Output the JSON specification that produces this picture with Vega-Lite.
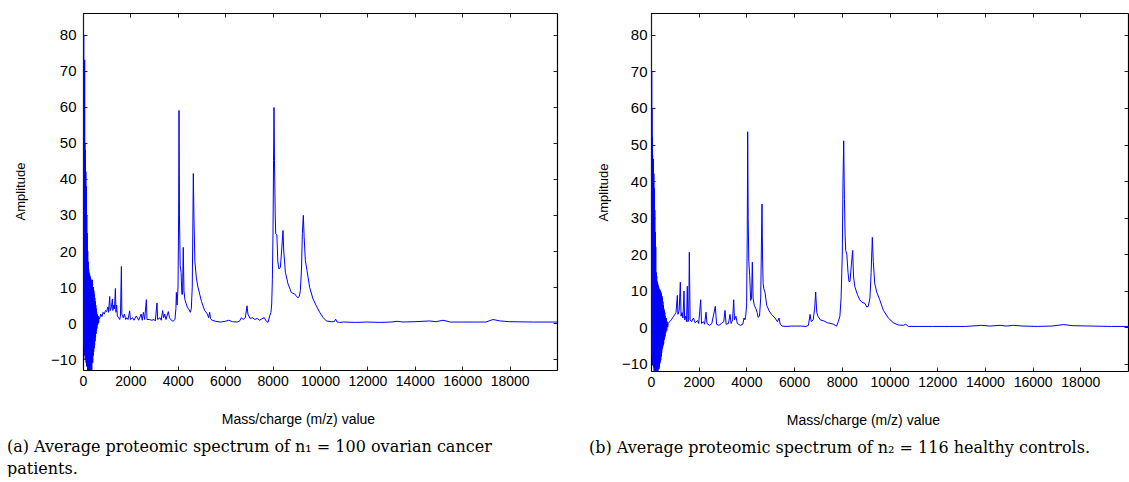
{
  "$schema": "https://vega.github.io/schema/vega-lite/v6.json",
  "padding": {"left": 7, "top": 12, "right": 0, "bottom": 0},
  "spacing": 31,
  "background": "white",
  "config": {
    "view": {"stroke": null},
    "axis": {"grid": false, "domainColor": "black", "domainWidth": 1.2, "tickColor": "#222222", "tickWidth": 1, "labelColor": "black", "titleColor": "black", "labelFont": "Liberation Sans", "titleFont": "Liberation Sans", "titleFontWeight": "normal"}
  },
  "datasets": {
    "a": [
      {"mz":0,"amp":90},{"mz":5,"amp":-3},{"mz":10,"amp":88},{"mz":15,"amp":-5},{"mz":20,"amp":85},{"mz":25,"amp":-6},{"mz":30,"amp":80},{"mz":35,"amp":-4},{"mz":40,"amp":73},{"mz":45,"amp":-7},{"mz":50,"amp":65},{"mz":55,"amp":-8},{"mz":60,"amp":60},{"mz":65,"amp":-6},{"mz":70,"amp":73},{"mz":75,"amp":-9},{"mz":80,"amp":50},{"mz":85,"amp":-8},{"mz":90,"amp":48},{"mz":95,"amp":-10},{"mz":100,"amp":45},{"mz":110,"amp":-9},{"mz":120,"amp":42},{"mz":130,"amp":-11},{"mz":140,"amp":38},{"mz":150,"amp":-12},{"mz":160,"amp":30},{"mz":170,"amp":-10},{"mz":180,"amp":25},{"mz":190,"amp":-13},{"mz":200,"amp":20},{"mz":210,"amp":-11},{"mz":220,"amp":17},{"mz":230,"amp":-14},{"mz":240,"amp":15},{"mz":250,"amp":-12},{"mz":260,"amp":14},{"mz":270,"amp":-14},{"mz":280,"amp":13.5},{"mz":290,"amp":-13},{"mz":300,"amp":13},{"mz":310,"amp":-12},{"mz":320,"amp":12.5},{"mz":330,"amp":-14},{"mz":340,"amp":12},{"mz":350,"amp":-11},{"mz":360,"amp":12},{"mz":370,"amp":-13},{"mz":380,"amp":11},{"mz":390,"amp":-10},{"mz":400,"amp":12},{"mz":410,"amp":-11},{"mz":420,"amp":10},{"mz":430,"amp":-9},{"mz":440,"amp":10},{"mz":450,"amp":-8},{"mz":460,"amp":9},{"mz":470,"amp":-7},{"mz":480,"amp":8},{"mz":490,"amp":-6},{"mz":500,"amp":7},{"mz":510,"amp":-5},{"mz":520,"amp":6},{"mz":530,"amp":-4},{"mz":540,"amp":5},{"mz":550,"amp":-3},{"mz":560,"amp":4},{"mz":570,"amp":-2},{"mz":580,"amp":3},{"mz":590,"amp":-1.5},{"mz":600,"amp":2.5},{"mz":620,"amp":-0.5},{"mz":640,"amp":2},{"mz":660,"amp":0},{"mz":680,"amp":1.5},{"mz":700,"amp":1.2},
      {"mz":750,"amp":2.5},{"mz":800,"amp":1.8},{"mz":850,"amp":3},{"mz":900,"amp":2.5},{"mz":950,"amp":3.5},{"mz":1000,"amp":3.2},{"mz":1050,"amp":4.5},{"mz":1080,"amp":3},{"mz":1127,"amp":7.4},{"mz":1150,"amp":3.5},{"mz":1200,"amp":4.5},{"mz":1240,"amp":6.7},{"mz":1260,"amp":3.5},{"mz":1300,"amp":5},{"mz":1330,"amp":4},{"mz":1367,"amp":9.6},{"mz":1390,"amp":3},{"mz":1420,"amp":5},{"mz":1450,"amp":2},{"mz":1500,"amp":1.5},{"mz":1550,"amp":1},{"mz":1580,"amp":2},{"mz":1620,"amp":15.7},{"mz":1640,"amp":2.5},{"mz":1700,"amp":1.5},{"mz":1750,"amp":2.5},{"mz":1800,"amp":1},{"mz":1850,"amp":1.5},{"mz":1900,"amp":1},{"mz":1970,"amp":3.4},{"mz":2000,"amp":1},{"mz":2100,"amp":1.5},{"mz":2150,"amp":0.8},{"mz":2250,"amp":2},{"mz":2350,"amp":0.8},{"mz":2450,"amp":2.5},{"mz":2500,"amp":0.8},{"mz":2550,"amp":3},{"mz":2600,"amp":1},{"mz":2675,"amp":6.5},{"mz":2700,"amp":1},{"mz":2800,"amp":1},{"mz":2900,"amp":0.8},{"mz":3000,"amp":1},{"mz":3050,"amp":0.6},{"mz":3122,"amp":5.6},{"mz":3150,"amp":1},{"mz":3250,"amp":1.5},{"mz":3300,"amp":0.8},{"mz":3360,"amp":3.5},{"mz":3400,"amp":1.5},{"mz":3450,"amp":2.5},{"mz":3500,"amp":1},{"mz":3600,"amp":3.2},{"mz":3650,"amp":1.5},{"mz":3700,"amp":1},{"mz":3800,"amp":0.5},{"mz":3880,"amp":1},{"mz":3920,"amp":4},{"mz":3940,"amp":8.5},{"mz":3970,"amp":5},{"mz":4010,"amp":10},{"mz":4035,"amp":30},{"mz":4051,"amp":59},{"mz":4070,"amp":30},{"mz":4100,"amp":16},{"mz":4140,"amp":14},{"mz":4170,"amp":8},{"mz":4200,"amp":8},{"mz":4230,"amp":21},{"mz":4260,"amp":9},{"mz":4300,"amp":6.5},{"mz":4350,"amp":5.5},{"mz":4400,"amp":4.5},{"mz":4450,"amp":4},{"mz":4530,"amp":3},{"mz":4570,"amp":4},{"mz":4610,"amp":10},{"mz":4640,"amp":30},{"mz":4655,"amp":41.5},{"mz":4680,"amp":30},{"mz":4720,"amp":17},{"mz":4785,"amp":12.5},{"mz":4850,"amp":10},{"mz":4925,"amp":8},{"mz":5000,"amp":6},{"mz":5135,"amp":3.5},{"mz":5250,"amp":2.5},{"mz":5300,"amp":1.5},{"mz":5346,"amp":3},{"mz":5380,"amp":1.2},{"mz":5450,"amp":0.8},{"mz":5600,"amp":0.5},{"mz":5800,"amp":0.3},{"mz":6000,"amp":0.5},{"mz":6150,"amp":0.8},{"mz":6300,"amp":0.4},{"mz":6500,"amp":0.3},{"mz":6600,"amp":0.5},{"mz":6683,"amp":1.5},{"mz":6750,"amp":1},{"mz":6850,"amp":1.5},{"mz":6920,"amp":4.8},{"mz":6960,"amp":2.5},{"mz":7050,"amp":1.3},{"mz":7150,"amp":1.5},{"mz":7250,"amp":1},{"mz":7350,"amp":1.3},{"mz":7450,"amp":0.8},{"mz":7550,"amp":1.2},{"mz":7650,"amp":1.5},{"mz":7738,"amp":0.5},{"mz":7806,"amp":0.2},{"mz":7878,"amp":2},{"mz":7930,"amp":3},{"mz":7962,"amp":5.3},{"mz":7990,"amp":12},{"mz":8017,"amp":25},{"mz":8040,"amp":45},{"mz":8059,"amp":59.8},{"mz":8080,"amp":45},{"mz":8110,"amp":30},{"mz":8131,"amp":24.8},{"mz":8180,"amp":24.5},{"mz":8220,"amp":17},{"mz":8270,"amp":15},{"mz":8330,"amp":15.5},{"mz":8380,"amp":20},{"mz":8439,"amp":25.7},{"mz":8470,"amp":20},{"mz":8540,"amp":14.1},{"mz":8650,"amp":10.9},{"mz":8790,"amp":8.5},{"mz":8850,"amp":8.3},{"mz":8931,"amp":8.1},{"mz":9000,"amp":7.5},{"mz":9072,"amp":7},{"mz":9130,"amp":7.5},{"mz":9170,"amp":9},{"mz":9220,"amp":15},{"mz":9255,"amp":24.8},{"mz":9297,"amp":29.9},{"mz":9330,"amp":24},{"mz":9381,"amp":17.4},{"mz":9452,"amp":14.6},{"mz":9564,"amp":9.9},{"mz":9705,"amp":6.7},{"mz":9846,"amp":4.8},{"mz":9986,"amp":3},{"mz":10127,"amp":1.6},{"mz":10268,"amp":0.6},{"mz":10479,"amp":0.4},{"mz":10600,"amp":0.4},{"mz":10662,"amp":1.1},{"mz":10720,"amp":0.3},{"mz":10830,"amp":0.2},{"mz":11000,"amp":0.3},{"mz":11500,"amp":0.2},{"mz":12000,"amp":0.3},{"mz":12500,"amp":0.2},{"mz":13000,"amp":0.3},{"mz":13270,"amp":0.5},{"mz":13500,"amp":0.3},{"mz":14000,"amp":0.4},{"mz":14627,"amp":0.6},{"mz":14900,"amp":0.4},{"mz":15190,"amp":0.8},{"mz":15500,"amp":0.3},{"mz":16000,"amp":0.3},{"mz":16500,"amp":0.3},{"mz":17000,"amp":0.3},{"mz":17300,"amp":1.0},{"mz":17600,"amp":0.6},{"mz":18000,"amp":0.4},{"mz":19000,"amp":0.3},{"mz":20000,"amp":0.3}
    ],
    "b": [
      {"mz":0,"amp":90},{"mz":5,"amp":-2},{"mz":10,"amp":88},{"mz":15,"amp":-5},{"mz":20,"amp":86},{"mz":25,"amp":-7},{"mz":30,"amp":70},{"mz":35,"amp":-6},{"mz":40,"amp":60},{"mz":45,"amp":-8},{"mz":50,"amp":52},{"mz":55,"amp":-9},{"mz":60,"amp":48},{"mz":65,"amp":-10},{"mz":70,"amp":47},{"mz":75,"amp":-9},{"mz":80,"amp":46},{"mz":85,"amp":-10.5},{"mz":90,"amp":46},{"mz":95,"amp":-10},{"mz":100,"amp":45},{"mz":110,"amp":-11},{"mz":120,"amp":42},{"mz":130,"amp":-12},{"mz":140,"amp":38},{"mz":150,"amp":-11},{"mz":160,"amp":32},{"mz":170,"amp":-12},{"mz":180,"amp":26},{"mz":190,"amp":-11.5},{"mz":200,"amp":22},{"mz":210,"amp":-12},{"mz":220,"amp":15},{"mz":230,"amp":-11},{"mz":240,"amp":14},{"mz":250,"amp":-12},{"mz":260,"amp":12.5},{"mz":270,"amp":-11.5},{"mz":280,"amp":12},{"mz":290,"amp":-12},{"mz":300,"amp":11.5},{"mz":310,"amp":-11},{"mz":320,"amp":11},{"mz":330,"amp":-11.5},{"mz":340,"amp":10.5},{"mz":350,"amp":-11},{"mz":360,"amp":10.5},{"mz":370,"amp":-10},{"mz":380,"amp":10},{"mz":390,"amp":-9.5},{"mz":400,"amp":10},{"mz":410,"amp":-9},{"mz":420,"amp":9.5},{"mz":430,"amp":-8},{"mz":440,"amp":9},{"mz":450,"amp":-7},{"mz":460,"amp":8.5},{"mz":470,"amp":-6},{"mz":480,"amp":8},{"mz":490,"amp":-5.5},{"mz":500,"amp":7},{"mz":510,"amp":-5},{"mz":520,"amp":6},{"mz":530,"amp":-4.5},{"mz":540,"amp":5},{"mz":550,"amp":-3.5},{"mz":560,"amp":4.5},{"mz":570,"amp":-3},{"mz":580,"amp":4},{"mz":590,"amp":-2.5},{"mz":600,"amp":3},{"mz":620,"amp":-1.5},{"mz":640,"amp":2.5},{"mz":660,"amp":-1},{"mz":680,"amp":1.5},{"mz":700,"amp":0},{"mz":720,"amp":1},
      {"mz":780,"amp":1.5},{"mz":850,"amp":2},{"mz":900,"amp":2.5},{"mz":950,"amp":3},{"mz":1000,"amp":3.5},{"mz":1050,"amp":4},{"mz":1104,"amp":8.7},{"mz":1130,"amp":3.5},{"mz":1180,"amp":4.5},{"mz":1230,"amp":12.3},{"mz":1260,"amp":3},{"mz":1300,"amp":4},{"mz":1340,"amp":2.5},{"mz":1384,"amp":9.9},{"mz":1410,"amp":2},{"mz":1450,"amp":3},{"mz":1490,"amp":1.5},{"mz":1523,"amp":11.2},{"mz":1550,"amp":1.5},{"mz":1580,"amp":2},{"mz":1607,"amp":20.5},{"mz":1640,"amp":2},{"mz":1700,"amp":1.5},{"mz":1780,"amp":2.5},{"mz":1850,"amp":1.2},{"mz":1950,"amp":1.8},{"mz":2000,"amp":1},{"mz":2083,"amp":7.5},{"mz":2120,"amp":1},{"mz":2200,"amp":1.5},{"mz":2250,"amp":0.8},{"mz":2306,"amp":4.1},{"mz":2350,"amp":1},{"mz":2450,"amp":0.5},{"mz":2550,"amp":1},{"mz":2697,"amp":5.7},{"mz":2750,"amp":0.8},{"mz":2850,"amp":0.5},{"mz":2950,"amp":1},{"mz":3050,"amp":1.5},{"mz":3103,"amp":4.6},{"mz":3150,"amp":0.8},{"mz":3250,"amp":1},{"mz":3312,"amp":3.5},{"mz":3360,"amp":1},{"mz":3420,"amp":2},{"mz":3467,"amp":7.5},{"mz":3500,"amp":2},{"mz":3560,"amp":3},{"mz":3620,"amp":1},{"mz":3750,"amp":0.5},{"mz":3850,"amp":0.8},{"mz":3899,"amp":2.5},{"mz":3940,"amp":2},{"mz":3970,"amp":3},{"mz":4010,"amp":6},{"mz":4035,"amp":25},{"mz":4054,"amp":53.5},{"mz":4075,"amp":30},{"mz":4100,"amp":18},{"mz":4138,"amp":14.1},{"mz":4180,"amp":7.3},{"mz":4215,"amp":8},{"mz":4249,"amp":17.8},{"mz":4280,"amp":8},{"mz":4330,"amp":6},{"mz":4400,"amp":5},{"mz":4450,"amp":4},{"mz":4490,"amp":2.7},{"mz":4550,"amp":3},{"mz":4600,"amp":8},{"mz":4635,"amp":25},{"mz":4654,"amp":33.7},{"mz":4675,"amp":20},{"mz":4700,"amp":12},{"mz":4730,"amp":10.5},{"mz":4780,"amp":9.5},{"mz":4850,"amp":6},{"mz":4950,"amp":4.5},{"mz":5050,"amp":3.5},{"mz":5200,"amp":2.5},{"mz":5300,"amp":1.5},{"mz":5367,"amp":2.5},{"mz":5420,"amp":0.8},{"mz":5500,"amp":0.3},{"mz":5700,"amp":0.2},{"mz":5900,"amp":0.3},{"mz":6100,"amp":0.3},{"mz":6300,"amp":0.3},{"mz":6500,"amp":0.2},{"mz":6600,"amp":0.5},{"mz":6667,"amp":3.5},{"mz":6720,"amp":1.5},{"mz":6800,"amp":2},{"mz":6860,"amp":5},{"mz":6905,"amp":9.6},{"mz":6950,"amp":4},{"mz":7000,"amp":3},{"mz":7100,"amp":2},{"mz":7250,"amp":1.7},{"mz":7400,"amp":1.2},{"mz":7550,"amp":1.0},{"mz":7650,"amp":0.8},{"mz":7785,"amp":0.3},{"mz":7850,"amp":1.5},{"mz":7920,"amp":3},{"mz":7970,"amp":8},{"mz":8021,"amp":20},{"mz":8050,"amp":40},{"mz":8080,"amp":51},{"mz":8110,"amp":35},{"mz":8140,"amp":25},{"mz":8163,"amp":21},{"mz":8210,"amp":20},{"mz":8260,"amp":15},{"mz":8300,"amp":12.5},{"mz":8344,"amp":12.5},{"mz":8400,"amp":17},{"mz":8456,"amp":21},{"mz":8490,"amp":14},{"mz":8550,"amp":11},{"mz":8650,"amp":9},{"mz":8750,"amp":7.5},{"mz":8850,"amp":6.8},{"mz":8973,"amp":6.5},{"mz":9044,"amp":5.5},{"mz":9110,"amp":5.7},{"mz":9180,"amp":8},{"mz":9230,"amp":15},{"mz":9280,"amp":24.6},{"mz":9320,"amp":18},{"mz":9380,"amp":12},{"mz":9463,"amp":9.6},{"mz":9602,"amp":7.3},{"mz":9742,"amp":4.6},{"mz":9951,"amp":2.5},{"mz":10161,"amp":1.2},{"mz":10370,"amp":0.6},{"mz":10580,"amp":0.5},{"mz":10679,"amp":0.8},{"mz":10790,"amp":0.2},{"mz":11200,"amp":0.2},{"mz":11800,"amp":0.2},{"mz":12500,"amp":0.2},{"mz":13200,"amp":0.2},{"mz":13865,"amp":0.5},{"mz":14200,"amp":0.3},{"mz":14633,"amp":0.5},{"mz":14900,"amp":0.3},{"mz":15192,"amp":0.5},{"mz":15600,"amp":0.3},{"mz":16200,"amp":0.2},{"mz":16800,"amp":0.3},{"mz":17288,"amp":0.7},{"mz":17700,"amp":0.4},{"mz":18500,"amp":0.3},{"mz":19300,"amp":0.2},{"mz":20000,"amp":0.2}
    ]
  },
  "hconcat": [
    {
      "width": 474,
      "height": 357,
      "data": {"name": "a"},
      "title": {"text": ["(a) Average proteomic spectrum of n₁ = 100 ovarian cancer", "patients."], "orient": "bottom", "anchor": "start", "frame": "bounds", "font": "DejaVu Serif", "fontSize": 16, "fontWeight": "normal", "color": "black", "lineHeight": 22, "offset": 13, "dx": -7},
      "layer": [
        {
          "mark": {"type": "line", "color": "#0000ff", "strokeWidth": 1, "clip": true},
          "encoding": {
            "x": {"field": "mz", "type": "quantitative", "scale": {"domain": [0, 20000], "nice": false, "zero": false},
              "axis": {"orient": "bottom", "values": [0,2000,4000,6000,8000,10000,12000,14000,16000,18000], "format": "d", "title": "Mass/charge (m/z) value", "tickSize": -4, "labelPadding": 8, "labelFontSize": 14, "labelFlush": false, "labelOverlap": false, "titleFontSize": 14, "titleX": 215, "titleY": 53, "titleBaseline": "alphabetic",
                "encode": {"labels": {"update": {"dx": {"signal": "-6 - datum.value * 0.00161"}}}}}},
            "y": {"field": "amp", "type": "quantitative", "scale": {"domain": [-13, 86], "nice": false, "zero": false},
              "axis": {"orient": "left", "values": [-10,0,10,20,30,40,50,60,70,80], "title": "Amplitude", "tickSize": -4, "labelPadding": 11, "labelFontSize": 15, "labelFlush": false, "labelOverlap": false, "titleFontSize": 13, "titleX": -63, "titleY": 178, "titleBaseline": "middle"}}
          }
        },
        {
          "mark": {"type": "line", "opacity": 0, "clip": true},
          "encoding": {
            "x": {"field": "mz", "type": "quantitative", "axis": {"orient": "top", "values": [0,2000,4000,6000,8000,10000,12000,14000,16000,18000], "labels": false, "title": null, "tickSize": -4}},
            "y": {"field": "amp", "type": "quantitative", "axis": {"orient": "right", "values": [-10,0,10,20,30,40,50,60,70,80], "labels": false, "title": null, "tickSize": -4}}
          }
        }
      ],
      "resolve": {"axis": {"x": "independent", "y": "independent"}}
    },
    {
      "width": 477,
      "height": 358,
      "data": {"name": "b"},
      "title": {"text": "(b) Average proteomic spectrum of n₂ = 116 healthy controls.", "orient": "bottom", "anchor": "start", "frame": "bounds", "font": "DejaVu Serif", "fontSize": 16, "fontWeight": "normal", "color": "black", "lineHeight": 22, "offset": 13, "dx": -8},
      "layer": [
        {
          "mark": {"type": "line", "color": "#0000ff", "strokeWidth": 1, "clip": true},
          "encoding": {
            "x": {"field": "mz", "type": "quantitative", "scale": {"domain": [0, 20000], "nice": false, "zero": false},
              "axis": {"orient": "bottom", "values": [0,2000,4000,6000,8000,10000,12000,14000,16000,18000], "format": "d", "title": "Mass/charge (m/z) value", "tickSize": -4, "labelPadding": 8, "labelFontSize": 14, "labelFlush": false, "labelOverlap": false, "titleFontSize": 14, "titleX": 212, "titleY": 53, "titleBaseline": "alphabetic",
                "encode": {"labels": {"update": {"dx": {"signal": "-7 - datum.value * 0.00194"}}}}}},
            "y": {"field": "amp", "type": "quantitative", "scale": {"domain": [-12, 86], "nice": false, "zero": false},
              "axis": {"orient": "left", "values": [-10,0,10,20,30,40,50,60,70,80], "title": "Amplitude", "tickSize": -4, "labelPadding": 8, "labelFontSize": 15, "labelFlush": false, "labelOverlap": false, "titleFontSize": 13, "titleX": -48, "titleY": 179, "titleBaseline": "middle"}}
          }
        },
        {
          "mark": {"type": "line", "opacity": 0, "clip": true},
          "encoding": {
            "x": {"field": "mz", "type": "quantitative", "axis": {"orient": "top", "values": [0,2000,4000,6000,8000,10000,12000,14000,16000,18000], "labels": false, "title": null, "tickSize": -4}},
            "y": {"field": "amp", "type": "quantitative", "axis": {"orient": "right", "values": [-10,0,10,20,30,40,50,60,70,80], "labels": false, "title": null, "tickSize": -4}}
          }
        }
      ],
      "resolve": {"axis": {"x": "independent", "y": "independent"}}
    }
  ]
}
